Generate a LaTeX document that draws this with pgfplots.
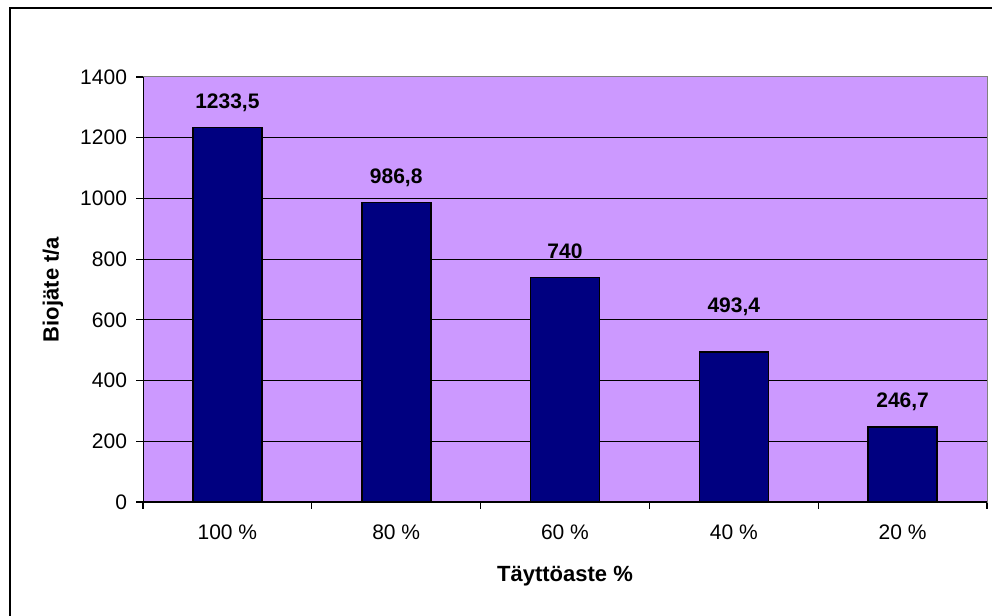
\documentclass[border=0pt]{standalone}
\usepackage{pgfplots}
\pgfplotsset{compat=1.18}
\usepackage{pgfplotstable}
\usepackage{fontspec}
\setmainfont{Liberation Sans}

\definecolor{plotbg}{HTML}{CC99FF}
\definecolor{barnavy}{HTML}{000080}

% fill level -> annual amount of bio-waste (t/a); off = label lift above the bar
\pgfplotstableread{
x val lab off
1 1233.5 1233,5 25
2 986.8 986,8 25
3 740 740 26
4 493.4 493,4 45
5 246.7 246,7 25
}\biodata

\begin{document}
\begin{tikzpicture}
\begin{axis}[
  at={(143pt,113pt)}, anchor=south west,
  scale only axis, width=844pt, height=425pt,
  xmin=0.5, xmax=5.5, ymin=0, ymax=1400,
  ybar, bar width=69pt,
  ytick={0,200,...,1400},
  xtick={0.5,1.5,...,5.5}, xticklabels={},
  extra x ticks={1,2,3,4,5},
  extra x tick labels={100 \%,80 \%,60 \%,40 \%,20 \%},
  extra x tick style={major tick length=0pt,
    xticklabel style={anchor=north, yshift=-19pt}},
  tick align=outside, tick pos=left,
  major tick length=6.5pt,
  /pgf/number format/.cd, 1000 sep={}, assume math mode=true, /pgfplots/.cd,
  ymajorgrids, grid style={black, line width=1pt},
  axis background/.style={fill=plotbg},
  axis line style={draw=gray, line width=1pt},
  tick style={black, line width=1.1pt},
  ticklabel style={font=\fontsize{21}{25}\selectfont},
  yticklabel style={xshift=-6pt},
  ylabel={Biojäte t/a}, xlabel={Täyttöaste \%},
  label style={font=\bfseries\fontsize{22}{26}\selectfont},
  ylabel style={at={(axis description cs:-0.1066,0.5)}, anchor=center},
  xlabel style={at={(axis description cs:0.5,-0.174)}, anchor=center},
]
\addplot[fill=barnavy, draw=black, line width=1.6pt,
  point meta=explicit symbolic,
  visualization depends on={\thisrow{off} \as \labshift},
  nodes near coords,
  nodes near coords style={anchor=center, yshift=\labshift*1pt,
    font=\bfseries\fontsize{21}{25}\selectfont}]
  table[x=x, y=val, meta=lab] {\biodata};
\draw[black, line width=1.2pt] (rel axis cs:0,0) -- (rel axis cs:0,1);
\draw[black, line width=1.2pt] (rel axis cs:0,0) -- (rel axis cs:1,0);
\end{axis}
% chart frame (left and top edges)
\draw[black, line width=1.3pt] (10pt,-20pt) -- (10pt,607pt) -- (1010pt,607pt);
\pgfresetboundingbox
\useasboundingbox (0pt,0pt) rectangle (992pt,615pt);
\end{tikzpicture}
\end{document}
